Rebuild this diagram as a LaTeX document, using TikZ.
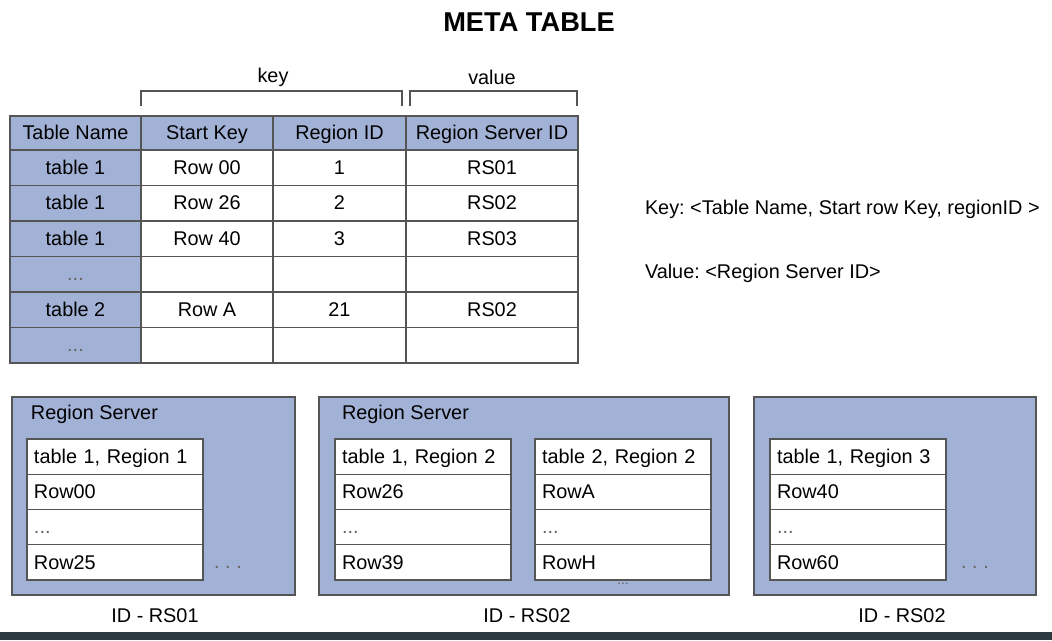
\documentclass[tikz,border=0pt]{standalone}
\usepackage{fontspec}
\setmainfont{Liberation Sans}
\frenchspacing
\usetikzlibrary{positioning}
\definecolor{rsBlue}{RGB}{162,177,214}
\definecolor{lineGrey}{RGB}{85,85,85}
\definecolor{barDark}{RGB}{46,58,66}

\begin{document}
\begin{tikzpicture}[x=0.02cm,y=-0.02cm]
\tikzstyle{txt}=[font=\fontsize{11.3}{13}\selectfont, inner sep=0pt, outer sep=0pt]
\tikzstyle{cell}=[txt, rectangle, draw=lineGrey, line width=0.8pt, fill=white, minimum height=0.71cm, text height=10pt, text depth=2.4pt]
\tikzstyle{head}=[cell, fill=rsBlue, minimum height=0.68cm]
\tikzstyle{colA}=[minimum width=2.62cm]
\tikzstyle{colB}=[minimum width=2.64cm]
\tikzstyle{colC}=[minimum width=2.66cm]
\tikzstyle{colD}=[minimum width=3.44cm]
\tikzstyle{rcell}=[txt, rectangle, draw=lineGrey, line width=0.8pt, fill=white, minimum height=0.705cm, text height=10pt, text depth=2.4pt, text width=3.24cm, inner xsep=0.14cm, align=left]
\tikzstyle{server}=[rectangle, draw=lineGrey, line width=0.8pt, fill=rsBlue, minimum height=3.96cm, inner sep=0pt]
\tikzstyle{dots}=[txt, text=black!60]
\useasboundingbox (0,0) rectangle (1052,640);

%Title
\node[font=\bfseries\fontsize{15.5}{18}\selectfont] (title) at (529,22) {META TABLE};

%key / value brackets
\node[txt] (keyLabel)   at (273,77) {key};
\node[txt] (valueLabel) at (492,77) {value};
\coordinate (keyL)   at (141,106);
\coordinate (keyR)   at (402,106);
\coordinate (valueL) at (410,106);
\coordinate (valueR) at (577,106);
\draw[lineGrey, line width=0.8pt] (keyL) -- ++(0,-15) -| (keyR);
\draw[lineGrey, line width=0.8pt] (valueL) -- ++(0,-15) -| (valueR);

%header of meta table
\node[head, colA] (hName)   at (75.5,133)  {Table Name};
\node[head, colB] (hStart)  at (207,133)   {Start Key};
\node[head, colC] (hRegion) at (339.5,133) {Region ID};
\node[head, colD] (hServer) at (492,133)   {Region Server ID};

%rows of meta table
\node[cell, colA, fill=rsBlue, below=0pt of hName]   (r1Name)   {table 1};
\node[cell, colB, below=0pt of hStart]               (r1Start)  {Row 00};
\node[cell, colC, below=0pt of hRegion]              (r1Region) {1};
\node[cell, colD, below=0pt of hServer]              (r1Server) {RS01};

\node[cell, colA, fill=rsBlue, below=0pt of r1Name]  (r2Name)   {table 1};
\node[cell, colB, below=0pt of r1Start]              (r2Start)  {Row 26};
\node[cell, colC, below=0pt of r1Region]             (r2Region) {2};
\node[cell, colD, below=0pt of r1Server]             (r2Server) {RS02};

\node[cell, colA, fill=rsBlue, below=0pt of r2Name]  (r3Name)   {table 1};
\node[cell, colB, below=0pt of r2Start]              (r3Start)  {Row 40};
\node[cell, colC, below=0pt of r2Region]             (r3Region) {3};
\node[cell, colD, below=0pt of r2Server]             (r3Server) {RS03};

\node[cell, colA, fill=rsBlue, below=0pt of r3Name, text=black!60] (r4Name) {...};
\node[cell, colB, below=0pt of r3Start]              (r4Start)  {};
\node[cell, colC, below=0pt of r3Region]             (r4Region) {};
\node[cell, colD, below=0pt of r3Server]             (r4Server) {};

\node[cell, colA, fill=rsBlue, below=0pt of r4Name]  (r5Name)   {table 2};
\node[cell, colB, below=0pt of r4Start]              (r5Start)  {Row A};
\node[cell, colC, below=0pt of r4Region]             (r5Region) {21};
\node[cell, colD, below=0pt of r4Server]             (r5Server) {RS02};

\node[cell, colA, fill=rsBlue, below=0pt of r5Name, text=black!60] (r6Name) {...};
\node[cell, colB, below=0pt of r5Start]              (r6Start)  {};
\node[cell, colC, below=0pt of r5Region]             (r6Region) {};
\node[cell, colD, below=0pt of r5Server]             (r6Server) {};

%key and value notes
\node[txt, anchor=west] (keyNote)   at (645,209) {Key: <Table Name, Start row Key, regionID >};
\node[txt, anchor=west] (valueNote) at (645,273) {Value: <Region Server ID>};

%region servers
\node[server, minimum width=5.66cm] (serverA) at (153.5,496) {};
\node[server, minimum width=8.2cm]  (serverB) at (524,496)   {};
\node[server, minimum width=5.64cm] (serverC) at (895,496)   {};

\node[txt, anchor=west] (serverALabel) at (31,414)  {Region Server};
\node[txt, anchor=west] (serverBLabel) at (342,414) {Region Server};

%regions in server A
\node[rcell, anchor=north west] (regA1) at (27,439) {table 1, Region 1};
\node[rcell, below=0pt of regA1] (regA2) {Row00};
\node[rcell, below=0pt of regA2, text=black!60] (regA3) {...};
\node[rcell, below=0pt of regA3] (regA4) {Row25};

%regions in server B
\node[rcell, anchor=north west] (regB1) at (335,439) {table 1, Region 2};
\node[rcell, below=0pt of regB1] (regB2) {Row26};
\node[rcell, below=0pt of regB2, text=black!60] (regB3) {...};
\node[rcell, below=0pt of regB3] (regB4) {Row39};

\node[rcell, anchor=north west] (regC1) at (535,439) {table 2, Region 2};
\node[rcell, below=0pt of regC1] (regC2) {RowA};
\node[rcell, below=0pt of regC2, text=black!60] (regC3) {...};
\node[rcell, below=0pt of regC3] (regC4) {RowH};

%regions in server C
\node[rcell, anchor=north west] (regD1) at (770,439) {table 1, Region 3};
\node[rcell, below=0pt of regD1] (regD2) {Row40};
\node[rcell, below=0pt of regD2, text=black!60] (regD3) {...};
\node[rcell, below=0pt of regD3] (regD4) {Row60};

%more regions
\node[dots] (moreA) at (228,567) {.\ .\ .};
\node[dots, font=\fontsize{8}{9}\selectfont] (moreB) at (623,584) {...};
\node[dots] (moreC) at (975,567) {.\ .\ .};

%server ids
\node[txt] (idA) at (155,616) {ID - RS01};
\node[txt] (idB) at (527,616) {ID - RS02};
\node[txt] (idC) at (902,616) {ID - RS02};

%bottom bar
\fill[barDark] (0,632) rectangle (1052,640);

\end{tikzpicture}
\end{document}
